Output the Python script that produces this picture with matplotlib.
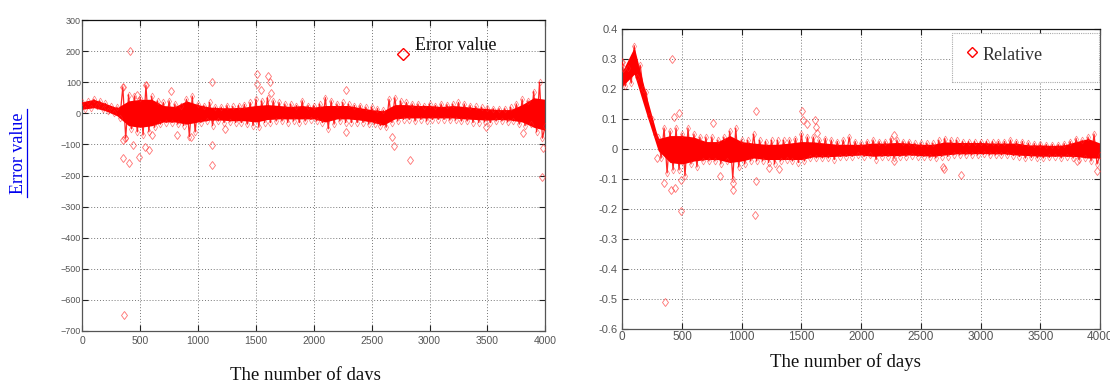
import matplotlib
matplotlib.use("Agg")
import matplotlib.pyplot as plt
from matplotlib.lines import Line2D
from matplotlib.patches import Rectangle

# ---------------- data ----------------
days_core = list(range(0, 4001, 100))
days_fringe = list(range(0, 4001, 25))

# Left panel: absolute error value
err_core_low = [13, 18, 8, -8, -40, -45, -40, -28, -28, -35, -28, -22, -22, -24, -24, -28,
                -20, -18, -18, -18, -18, -28, -18, -18, -22, -28, -38, -18, -15, -15, -15,
                -15, -15, -18, -20, -22, -20, -22, -28, -45, -55]
err_core_high = [37, 45, 32, 18, 40, 45, 45, 25, 22, 40, 28, 20, 18, 18, 20, 25,
                 28, 25, 22, 25, 20, 25, 25, 25, 18, 12, 8, 28, 28, 25, 25,
                 22, 25, 22, 18, 15, 12, 12, 28, 50, 45]
err_fringe = [35, 15, 38, 18,
              45, 22, 40, 15,
              32, 8, 22, 0,
              20, -15, 85, -80,
              60, -50, 55, -60,
              50, -70, 90, -60,
              55, -45, 40, -35,
              35, -30, 40, -30,
              30, -35, 25, -40,
              45, -75, 55, -60,
              30, -30, 25, -25,
              35, -40, 20, -25,
              20, -30, 25, -28,
              22, -30, 25, -30,
              28, -35, 35, -40,
              45, -45, 40, -30,
              50, -30, 40, -25,
              35, -25, 30, -30,
              30, -25, 25, -30,
              40, -25, 25, -20,
              25, -25, 30, -30,
              50, -50, 40, -35,
              30, -25, 35, -30,
              30, -30, 25, -30,
              25, -30, 20, -35,
              20, -35, 15, -40,
              10, -45, 45, -30,
              50, -25, 40, -20,
              35, -20, 30, -25,
              30, -20, 25, -25,
              30, -20, 25, -20,
              30, -20, 28, -22,
              30, -22, 35, -25,
              30, -25, 25, -30,
              22, -30, 20, -28,
              18, -30, 15, -25,
              15, -25, 15, -28,
              20, -25, 30, -35,
              45, -40, 40, -35,
              70, -60, 100, -80,
              -40]
err_out_days = [412, 350, 355, 365, 355, 400, 435, 490, 545, 580, 550, 764, 818, 940,
                1118, 1118, 1118, 1507, 1507, 1547, 1607, 1620, 1630, 2275, 2275,
                2676, 2690, 2835, 3805, 3983, 3975, 360, 1230, 3490, 600, 470]
err_out_vals = [201, 85, -85, -80, -145, -159, -102, -140, -109, -118, 91, 72, -70, -75,
                102, -102, -166, 126, 94, 75, 120, 100, 65, 75, -59,
                -75, -105, -150, -64, -112, -205, -650, -50, -45, -70, 60]

# Right panel: relative error
rel_core_low = [0.21, 0.25, 0.12, -0.005, -0.045, -0.05, -0.04, -0.035, -0.035, -0.045, -0.04,
                -0.03, -0.035, -0.035, -0.035, -0.035, -0.026, -0.026, -0.024, -0.022, -0.02,
                -0.024, -0.022, -0.022, -0.02, -0.022, -0.024, -0.02, -0.016, -0.016, -0.015,
                -0.016, -0.016, -0.02, -0.022, -0.024, -0.024, -0.024, -0.025, -0.03, -0.03]
rel_core_high = [0.26, 0.34, 0.18, 0.035, 0.045, 0.045, 0.04, 0.025, 0.025, 0.045, 0.025,
                 0.02, 0.016, 0.016, 0.02, 0.025, 0.024, 0.02, 0.016, 0.016, 0.016,
                 0.02, 0.02, 0.022, 0.02, 0.016, 0.016, 0.024, 0.022, 0.022, 0.022,
                 0.02, 0.02, 0.02, 0.014, 0.014, 0.012, 0.014, 0.025, 0.035, 0.02]
rel_fringe = [0.29, 0.21, 0.27, 0.22,
              0.345, 0.24, 0.28, 0.20,
              0.19, 0.11, 0.10, 0.05,
              0.04, -0.03, 0.07, -0.08,
              0.06, -0.07, 0.07, -0.07,
              0.05, -0.09, 0.07, -0.05,
              0.05, -0.06, 0.04, -0.04,
              0.04, -0.04, 0.04, -0.04,
              0.03, -0.05, 0.04, -0.04,
              0.06, -0.10, 0.07, -0.06,
              0.03, -0.05, 0.03, -0.04,
              0.05, -0.04, 0.03, -0.04,
              0.025, -0.045, 0.03, -0.05,
              0.03, -0.04, 0.03, -0.035,
              0.03, -0.04, 0.035, -0.045,
              0.05, -0.04, 0.04, -0.03,
              0.04, -0.03, 0.03, -0.03,
              0.035, -0.03, 0.03, -0.035,
              0.025, -0.025, 0.03, -0.025,
              0.04, -0.025, 0.025, -0.02,
              0.02, -0.025, 0.025, -0.02,
              0.03, -0.035, 0.025, -0.025,
              0.025, -0.025, 0.035, -0.03,
              0.03, -0.025, 0.025, -0.025,
              0.025, -0.022, 0.02, -0.025,
              0.02, -0.025, 0.02, -0.028,
              0.02, -0.03, 0.03, -0.025,
              0.035, -0.025, 0.03, -0.02,
              0.03, -0.02, 0.025, -0.02,
              0.025, -0.02, 0.025, -0.02,
              0.025, -0.018, 0.025, -0.02,
              0.025, -0.02, 0.025, -0.02,
              0.025, -0.02, 0.03, -0.022,
              0.025, -0.025, 0.025, -0.03,
              0.02, -0.028, 0.018, -0.03,
              0.018, -0.03, 0.015, -0.028,
              0.015, -0.025, 0.015, -0.03,
              0.018, -0.025, 0.025, -0.03,
              0.035, -0.035, 0.03, -0.03,
              0.04, -0.04, 0.05, -0.05,
              -0.02]
rel_out_days = [416, 352, 405, 441, 435, 472, 491, 491, 762, 818, 924, 924, 1120, 1120,
                1113, 1231, 1309, 1505, 1516, 1549, 1614, 1622, 1628, 354, 2272, 2272,
                2682, 2690, 2836, 3810, 3975, 290, 0, 10]
rel_out_vals = [0.30, -0.114, -0.137, -0.13, 0.108, 0.12, -0.103, -0.206, 0.088, -0.09,
                -0.114, -0.137, 0.128, -0.106, -0.22, -0.064, -0.066, 0.128, 0.097, 0.084,
                0.097, 0.075, 0.055, -0.51, 0.047, -0.039, -0.059, -0.066, -0.087, -0.039,
                -0.072, -0.03, 0.29, 0.27]

x_ticks = [0, 500, 1000, 1500, 2000, 2500, 3000, 3500, 4000]
err_yticks = [-700, -600, -500, -400, -300, -200, -100, 0, 100, 200, 300]
rel_yticks = [-0.6, -0.5, -0.4, -0.3, -0.2, -0.1, 0, 0.1, 0.2, 0.3, 0.4]
rel_ylabels = ['-0.6', '-0.5', '-0.4', '-0.3', '-0.2', '-0.1', '0', '0.1', '0.2', '0.3', '0.4']

# ---------------- figure ----------------
W, H = 1110, 380
fig = plt.figure(figsize=(W / 100, H / 100), dpi=100)
tick_font = ['Liberation Sans Narrow', 'Liberation Sans', 'DejaVu Sans']
serif = ['Liberation Serif', 'DejaVu Serif']


def px_box(l, t, r, b):
    return [l / W, 1 - b / H, (r - l) / W, (b - t) / H]


def style(ax, ysize, xsize):
    ax.grid(True, ls=(0, (1, 2)), color='#777777', lw=0.7)
    ax.tick_params(direction='in', length=4, top=True, right=True, color='#222222',
                   labelcolor='#555555', width=0.8)
    for lab in ax.get_yticklabels():
        lab.set_fontfamily(tick_font)
        lab.set_fontsize(ysize)
    for lab in ax.get_xticklabels():
        lab.set_fontfamily(tick_font)
        lab.set_fontsize(xsize)
    for s in ax.spines.values():
        s.set_color('#555555')
        s.set_linewidth(0.9)
    ax.spines['top'].set_color('#111111')
    ax.set_axisbelow(True)


def draw_band(ax, core_lo, core_hi, fringe, out_d, out_v, ms):
    ax.fill_between(days_core, core_lo, core_hi, color='#ff0000', lw=0, zorder=2)
    ax.plot(days_fringe, fringe, color='#ff0000', lw=0.9, alpha=0.85, zorder=3)
    ax.plot(days_fringe, fringe, ls='none', marker='d', ms=ms, mfc='none',
            mec='#ff2222', mew=0.5, alpha=0.6, zorder=3)
    ax.plot(out_d, out_v, ls='none', marker='d', ms=ms + 1, mfc='none', mec='#ff3333',
            mew=0.6, alpha=0.7, zorder=3)


# Left panel
ax1 = fig.add_axes(px_box(82.3, 20, 545.3, 331))
draw_band(ax1, err_core_low, err_core_high, err_fringe, err_out_days, err_out_vals, 3.5)
ax1.set_xlim(0, 4000)
ax1.set_ylim(-700, 300)
ax1.set_xticks(x_ticks)
ax1.set_yticks(err_yticks)
style(ax1, 6.5, 7.5)
ax1.tick_params(axis='y', pad=1)

# legend for left panel
fig.add_artist(Line2D([402.7 / W], [1 - 54 / H], marker='D', ms=6.5, mfc='none',
                      mec='#ff0000', mew=1.0))
fig.text(415 / W, 1 - 46 / H, 'Error value', family=serif, fontsize=13, va='center',
         ha='left', color='#111111')

fig.text(18.5 / W, 1 - 153 / H, 'Error value', family=serif, fontsize=13, rotation=90,
         va='center', ha='center', color='#0000ee')
fig.add_artist(Line2D([26.7 / W, 26.7 / W], [1 - 197 / H, 1 - 109 / H], color='#0000ee',
                      lw=0.9))
fig.text(305 / W, 1 - 375 / H, 'The number of days', family=serif, fontsize=13.5,
         va='center', ha='center', color='#111111')

# Right panel
ax2 = fig.add_axes(px_box(622.3, 29.3, 1100, 328.7))
draw_band(ax2, rel_core_low, rel_core_high, rel_fringe, rel_out_days, rel_out_vals, 3.5)
ax2.set_xlim(0, 4000)
ax2.set_ylim(-0.6, 0.4)
ax2.set_xticks(x_ticks)
ax2.set_yticks(rel_yticks)
ax2.set_yticklabels(rel_ylabels)
style(ax2, 8, 8.5)
ax2.tick_params(axis='x', pad=2)

fig.add_artist(Rectangle((952 / W, 1 - 82 / H), (1099 - 952) / W, (82 - 33) / H,
                         transform=fig.transFigure, fill=True, facecolor='white',
                         edgecolor='#aaaaaa', lw=0.8, ls=(0, (1, 1)), zorder=5))
fig.add_artist(Line2D([972 / W], [1 - 52 / H], marker='D', ms=5.5, mfc='none',
                      mec='#ff0000', mew=1.0, zorder=6))
fig.text(983 / W, 1 - 56 / H, 'Relative', family=serif, fontsize=13, va='center',
         ha='left', color='#333333', zorder=6)
fig.text(845 / W, 1 - 362 / H, 'The number of days', family=serif, fontsize=13.5,
         va='center', ha='center', color='#111111')

fig.savefig('out.png', dpi=100)
